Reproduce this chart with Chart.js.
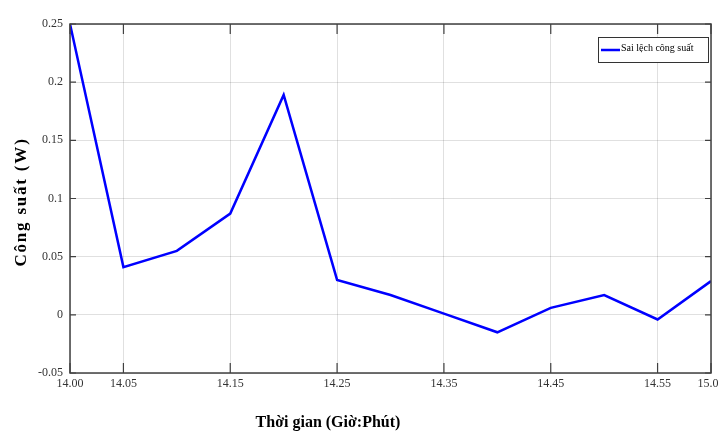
<!DOCTYPE html>
<html>
<head>
<meta charset="utf-8">
<script src="https://cdn.jsdelivr.net/npm/chart.js@4/dist/chart.umd.min.js"></script>
<style>
  html, body { margin: 0; padding: 0; background: #fff; }
  #wrap { width: 718px; height: 432px; position: relative; }
</style>
</head>
<body>
<div id="wrap"><canvas id="c" width="718" height="432"></canvas></div>
<script>
// ---- data ----
const seriesLabel = 'Sai lệch công suất';
const xIndex = [0, 1, 2, 3, 4, 5, 6, 7, 8, 9, 10, 11, 12];
const powerDeviation = [0.25, 0.041, 0.055, 0.087, 0.189, 0.030, 0.017, 0.001, -0.015, 0.006, 0.017, -0.004, 0.029];
const xTickPositions = [0, 1, 3, 5, 7, 9, 11, 12];
const xTickLabels = ['14.00', '14.05', '14.15', '14.25', '14.35', '14.45', '14.55', '15.00'];
const yTitle = 'Công suất (W)';
const xTitle = 'Thời gian (Giờ:Phút)';

const points = xIndex.map((x, i) => ({ x: x, y: powerDeviation[i] }));

const axisColor = '#404040';
const gridColor = 'rgba(0,0,0,0.12)';
const tickFont = { family: '"Liberation Serif", "Times New Roman", serif', size: 12 };

const framePlugin = {
  id: 'frame',
  afterDraw(chart) {
    const ctx = chart.ctx;
    const a = chart.chartArea;
    const xs = chart.scales.x, ys = chart.scales.y;
    ctx.save();
    ctx.strokeStyle = axisColor;
    ctx.lineWidth = 1.5;
    ctx.strokeRect(a.left, a.top, a.right - a.left, a.bottom - a.top);
    // inner tick marks
    ctx.lineWidth = 1.2;
    ctx.beginPath();
    xs.ticks.forEach(t => {
      const px = xs.getPixelForValue(t.value);
      ctx.moveTo(px, a.bottom); ctx.lineTo(px, a.bottom - 10);
      ctx.moveTo(px, a.top); ctx.lineTo(px, a.top + 10);
    });
    ys.ticks.forEach(t => {
      const py = ys.getPixelForValue(t.value);
      ctx.moveTo(a.left, py); ctx.lineTo(a.left + 6, py);
      ctx.moveTo(a.right, py); ctx.lineTo(a.right - 6, py);
    });
    ctx.stroke();

    // axis titles
    ctx.fillStyle = '#000';
    ctx.font = 'bold 16px "Liberation Serif", "Times New Roman", serif';
    ctx.textAlign = 'center';
    ctx.textBaseline = 'middle';
    ctx.fillText(xTitle, 328, 423);
    ctx.save();
    ctx.translate(22, 202);
    ctx.rotate(-Math.PI / 2);
    ctx.font = 'bold 17px "Liberation Serif", "Times New Roman", serif';
    ctx.letterSpacing = '1.8px';
    ctx.fillText(yTitle, 0, 0);
    ctx.restore();

    // legend
    const ds = chart.data.datasets[0];
    const lx = 598, ly = 37, lw = 110, lh = 25;
    ctx.fillStyle = '#fff';
    ctx.fillRect(lx, ly, lw, lh);
    ctx.strokeStyle = '#333';
    ctx.lineWidth = 1;
    ctx.strokeRect(lx + 0.5, ly + 0.5, lw, lh);
    ctx.strokeStyle = ds.borderColor;
    ctx.lineWidth = 2.5;
    ctx.beginPath();
    ctx.moveTo(lx + 3, ly + 13); ctx.lineTo(lx + 22, ly + 13);
    ctx.stroke();
    ctx.fillStyle = '#000';
    ctx.font = '10px "Liberation Serif", "Times New Roman", serif';
    ctx.textAlign = 'left';
    ctx.textBaseline = 'middle';
    ctx.fillText(ds.label, lx + 23, ly + 11);
    ctx.restore();
  }
};

new Chart(document.getElementById('c'), {
  type: 'line',
  data: {
    datasets: [{
      label: seriesLabel,
      data: points,
      borderColor: '#0000ff',
      backgroundColor: '#0000ff',
      borderWidth: 2.5,
      pointRadius: 0,
      tension: 0,
      fill: false
    }]
  },
  options: {
    responsive: false,
    animation: false,
    events: [],
    layout: { padding: { top: 24, right: 7, left: 0, bottom: 0 } },
    plugins: { legend: { display: false }, tooltip: { enabled: false } },
    scales: {
      x: {
        type: 'linear',
        min: 0, max: 12,
        afterBuildTicks(scale) {
          scale.ticks = xTickPositions.map(v => ({ value: v }));
        },
        afterFit(scale) {
          scale.height = 59;
          scale.paddingLeft = 0;
          scale.paddingRight = 0;
        },
        ticks: {
          autoSkip: false,
          maxRotation: 0,
          color: '#333',
          font: tickFont,
          padding: 4,
          callback(v) {
            const i = xTickPositions.indexOf(v);
            return i >= 0 ? xTickLabels[i] : '';
          }
        },
        grid: { color: gridColor, drawTicks: false, lineWidth: 1 },
        border: { display: false }
      },
      y: {
        min: -0.05, max: 0.25,
        afterFit(scale) {
          scale.width = 70;
          scale.paddingTop = 0;
          scale.paddingBottom = 0;
        },
        ticks: {
          stepSize: 0.05,
          color: '#333',
          font: tickFont,
          padding: 7,
          callback(v) { return String(parseFloat(v.toFixed(2))); }
        },
        grid: { color: gridColor, drawTicks: false, lineWidth: 1 },
        border: { display: false }
      }
    }
  },
  plugins: [framePlugin]
});
</script>
</body>
</html>
